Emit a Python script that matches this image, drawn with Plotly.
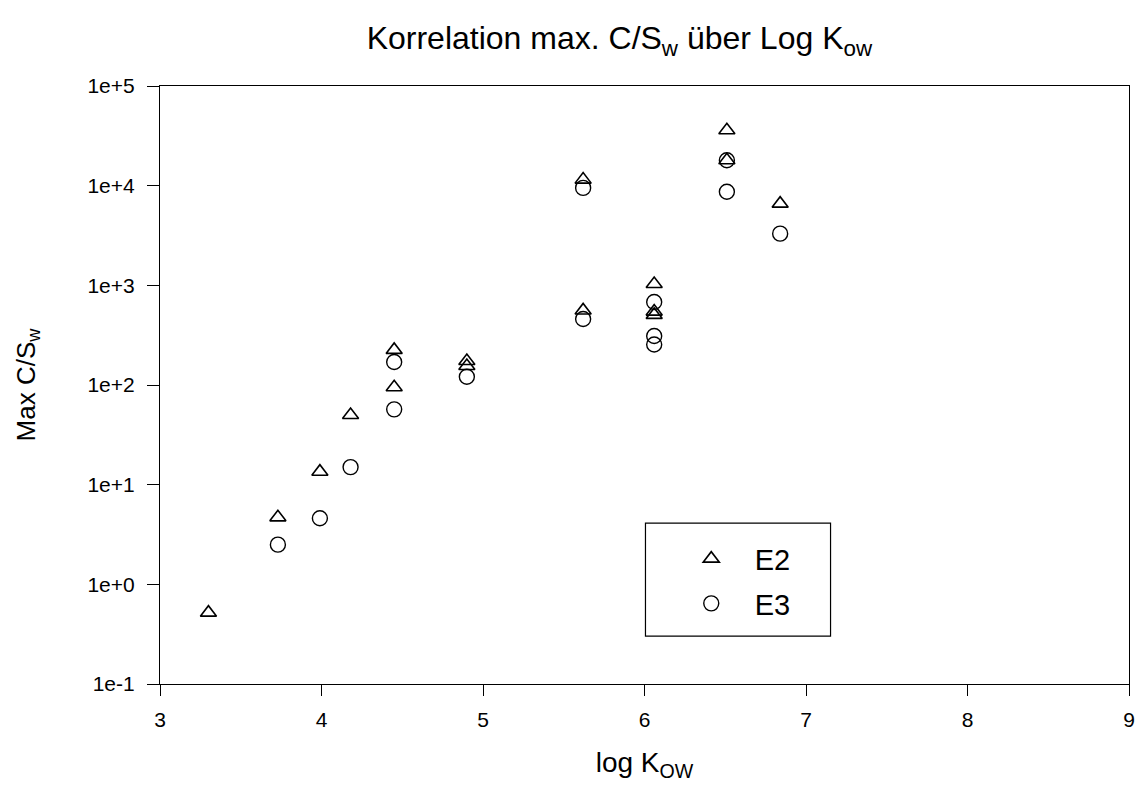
import plotly.graph_objects as go

# log Kow values and maximum C/Sw per experiment
e2_logkow = [3.30, 3.73, 3.99, 4.18, 4.45, 4.45, 4.90, 4.90, 5.62, 5.62, 6.06, 6.06, 6.06, 6.51, 6.51, 6.84]
e2_max_csw = [0.52, 4.7, 13.5, 50, 225, 95, 174, 155, 11500, 560, 1030, 545, 505, 36000, 18000, 6600]

e3_logkow = [3.73, 3.99, 4.18, 4.45, 4.45, 4.90, 5.62, 5.62, 6.06, 6.06, 6.06, 6.51, 6.51, 6.84]
e3_max_csw = [2.5, 4.6, 15, 170, 57, 121, 9500, 460, 680, 310, 255, 18000, 8700, 3300]

y_tick_vals = [0.1, 1, 10, 100, 1000, 10000, 100000]
y_tick_text = ["1e-1", "1e+0", "1e+1", "1e+2", "1e+3", "1e+4", "1e+5"]

FONT = "Liberation Sans, Arial, sans-serif"

fig = go.Figure()
fig.add_trace(go.Scatter(
    x=e2_logkow, y=e2_max_csw, mode="markers", name="E2", legendgroup="E2",
    marker=dict(symbol="triangle-up-open", size=14, color="black", line=dict(width=1.6, color="black")),
))
fig.add_trace(go.Scatter(
    x=e3_logkow, y=e3_max_csw, mode="markers", name="E3", legendgroup="E3",
    marker=dict(symbol="circle-open", size=15, color="black", line=dict(width=1.4, color="black")),
))

# legend frame
fig.add_shape(type="rect", xref="paper", yref="paper", x0=0.501, x1=0.692, y0=0.080, y1=0.269,
              line=dict(color="black", width=1.2), fillcolor="rgba(0,0,0,0)")

fig.update_layout(
    width=1147, height=792,
    margin=dict(l=160, r=13, t=86, b=108),
    paper_bgcolor="white", plot_bgcolor="white",
    font=dict(family=FONT, color="black"),
    title=dict(text="Korrelation max. C/S<sub>w</sub> über Log K<sub>ow</sub>",
               x=0.54, xanchor="center", y=0.952, yanchor="middle",
               font=dict(size=32, family=FONT, color="black")),
    xaxis=dict(range=[3, 9], tickmode="linear", tick0=3, dtick=1,
               showgrid=False, zeroline=False, showline=True, linecolor="black", linewidth=1.2,
               mirror=True, ticks="outside", ticklen=11, tickwidth=1.2, tickcolor="black",
               tickfont=dict(size=21), ticklabelstandoff=6,
               title=dict(text="log K<sub>OW</sub>", font=dict(size=28), standoff=22)),
    yaxis=dict(type="log", range=[-1, 5], tickmode="array", tickvals=y_tick_vals, ticktext=y_tick_text,
               showgrid=False, zeroline=False, showline=True, linecolor="black", linewidth=1.2,
               mirror=True, ticks="outside", ticklen=12, tickwidth=1.2, tickcolor="black",
               tickfont=dict(size=21), ticklabelstandoff=8,
               title=dict(text="Max C/S<sub>w</sub>", font=dict(size=26), standoff=44)),
    showlegend=True,
    legend=dict(x=0.524, y=0.252, xanchor="left", yanchor="top",
                bgcolor="rgba(0,0,0,0)", borderwidth=0,
                font=dict(size=29, family=FONT), tracegroupgap=4,
                traceorder="grouped", itemwidth=77),
)

fig.write_html("out.html")
